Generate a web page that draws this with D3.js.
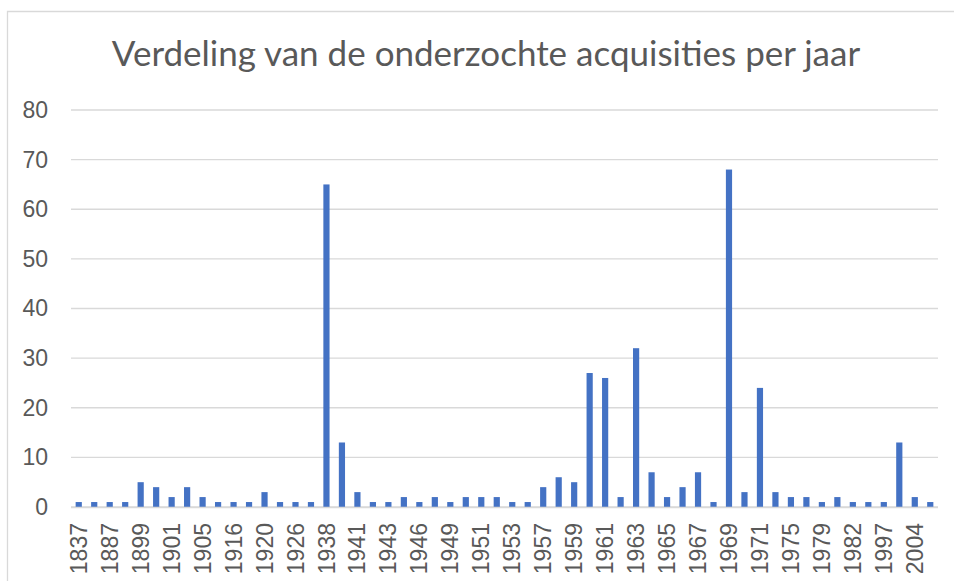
<!DOCTYPE html>
<html>
<head>
<meta charset="utf-8">
<script src="https://cdn.jsdelivr.net/npm/d3@7"></script>
<style>
  body { margin: 0; background: #fff; }
  svg { display: block; font-family: Lato, "Open Sans", sans-serif; }
  .grid line { stroke: #d9d9d9; stroke-width: 1.3; }
  .tick text { fill: #595959; }
</style>
</head>
<body>
<svg width="954" height="581"></svg>
<script>
// years (only every other one is shown on the axis)
const years = [
  "1837", "1880", "1887", "1890", "1899", "1900", "1901", "1903", "1905", "1910",
  "1916", "1918", "1920", "1924", "1926", "1936", "1938", "1939", "1941", "1942",
  "1943", "1945", "1946", "1948", "1949", "1950", "1951", "1952", "1953", "1955",
  "1957", "1958", "1959", "1960", "1961", "1962", "1963", "1964", "1965", "1966",
  "1967", "1968", "1969", "1970", "1971", "1973", "1975", "1977", "1979", "1980",
  "1982", "1985", "1997", "2000", "2004", "2008"
];
const counts = [
  1, 1, 1, 1, 5, 4, 2, 4, 2, 1,
  1, 1, 3, 1, 1, 1, 65, 13, 3, 1,
  1, 2, 1, 2, 1, 2, 2, 2, 1, 1,
  4, 6, 5, 27, 26, 2, 32, 7, 2, 4,
  7, 1, 68, 3, 24, 3, 2, 2, 1, 2,
  1, 1, 1, 13, 2, 1
];
const yTicks = [0, 10, 20, 30, 40, 50, 60, 70, 80];
const title = "Verdeling van de onderzochte acquisities per jaar";

const svg = d3.select("svg");

// chart frame
svg.append("path")
  .attr("d", "M7.5,581 V11.5 H954")
  .attr("fill", "none")
  .attr("stroke", "#d9d9d9")
  .attr("stroke-width", 1.3);

svg.append("text")
  .attr("x", 486)
  .attr("y", 66)
  .attr("text-anchor", "middle")
  .attr("fill", "#595959")
  .style("font-size", "35px")
  .text(title);

const plotLeft = 71, plotRight = 938, plotTop = 110, plotBottom = 507;

const x = d3.scaleBand()
  .domain(years)
  .range([plotLeft, plotRight])
  .paddingInner(0.6)
  .paddingOuter(0.3);

const y = d3.scaleLinear()
  .domain([0, 80])
  .range([plotBottom, plotTop]);

// gridlines
svg.append("g")
  .attr("class", "grid")
  .selectAll("line")
  .data(yTicks)
  .enter()
  .append("line")
  .attr("x1", plotLeft)
  .attr("x2", plotRight)
  .attr("y1", d => y(d))
  .attr("y2", d => y(d));

// y axis labels
const yAxis = svg.append("g")
  .attr("transform", `translate(${plotLeft - 23},0)`)
  .call(d3.axisLeft(y).tickValues(yTicks).tickSize(0).tickPadding(0));
yAxis.select(".domain").remove();
yAxis.selectAll("text").style("font-size", "23px");

// bars
svg.append("g")
  .selectAll("rect")
  .data(counts)
  .enter()
  .append("rect")
  .attr("x", (d, i) => x(years[i]))
  .attr("width", x.bandwidth())
  .attr("y", d => y(d))
  .attr("height", d => plotBottom - y(d))
  .attr("fill", "#4472c4");

// x axis line
svg.append("line")
  .attr("x1", plotLeft)
  .attr("x2", plotRight)
  .attr("y1", plotBottom + 0.5)
  .attr("y2", plotBottom + 0.5)
  .attr("stroke", "#d9d9d9")
  .attr("stroke-width", 1.3);

// x axis labels, every other year
const xAxis = svg.append("g")
  .attr("transform", `translate(0,${plotBottom})`)
  .call(d3.axisBottom(x)
    .tickValues(years.filter((d, i) => i % 2 === 0))
    .tickSize(0));
xAxis.select(".domain").remove();
xAxis.selectAll("text")
  .style("font-size", "23px")
  .attr("text-anchor", "end")
  .attr("dy", "0.35em")
  .attr("transform", "translate(0,16) rotate(-90)")
  .attr("y", 0)
  .attr("x", 0);
</script>
</body>
</html>
